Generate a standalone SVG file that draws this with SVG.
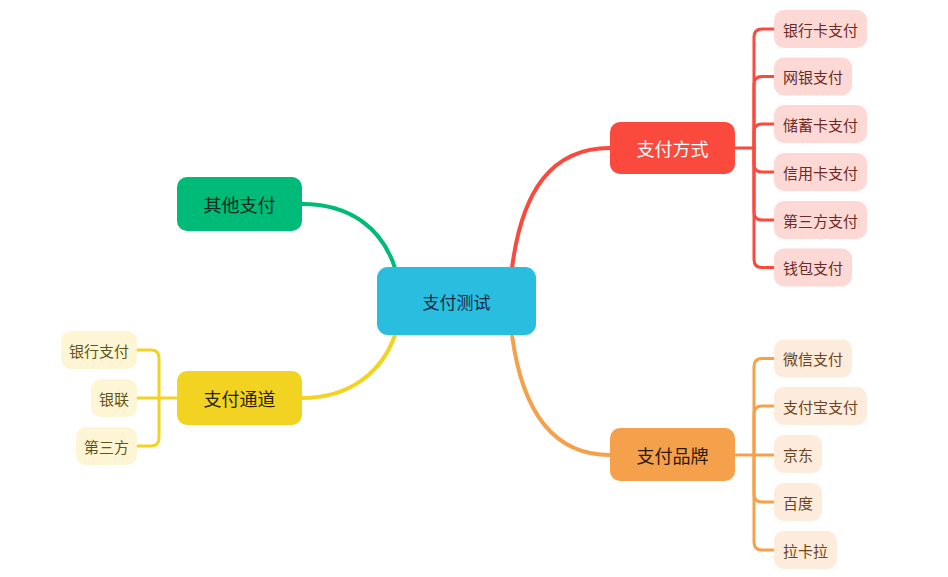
<svg xmlns="http://www.w3.org/2000/svg" width="948" height="577" viewBox="0 0 948 577">
<style>
text{font-family:"Microsoft YaHei","Noto Sans CJK SC",sans-serif;text-anchor:middle;dominant-baseline:central}
.main{font-size:18px}
.leaf{font-size:15px}
.c{fill:none;stroke-linecap:round}
.b{stroke-width:4}
.s{stroke-width:3}
</style>
<rect width="948" height="577" fill="#ffffff"/>
<g id="connectors">
<path class="c b" stroke="#F94A3D" d="M512,268 C522,190 552,148 610,148"/>
<path class="c b" stroke="#F5A04A" d="M512,335 C522,410 552,455 610,455"/>
<path class="c b" stroke="#00BA78" d="M395,268 C382,228 350,204 302,204"/>
<path class="c b" stroke="#F2D322" d="M395,335 C382,372 350,398 302,398"/>
<g stroke="#F94A3D" class="c s">
<path d="M735,148 H754"/>
<path d="M754,148 V37 Q754,29 762,29 H776"/>
<path d="M754,148 V84.5 Q754,76.5 762,76.5 H776"/>
<path d="M754,148 V132 Q754,124 762,124 H776"/>
<path d="M754,148 V164 Q754,172 762,172 H776"/>
<path d="M754,148 V212 Q754,220 762,220 H776"/>
<path d="M754,148 V259.5 Q754,267.5 762,267.5 H776"/>
</g>
<g stroke="#F5A04A" class="c s">
<path d="M735,455 H776"/>
<path d="M754,455 V366.5 Q754,358.5 762,358.5 H776"/>
<path d="M754,455 V414 Q754,406 762,406 H776"/>
<path d="M754,455 V494 Q754,502 762,502 H776"/>
<path d="M754,455 V542 Q754,550 762,550 H776"/>
</g>
<g stroke="#F2D322" class="c s">
<path d="M177,398 H137"/>
<path d="M159,398 V358 Q159,350 151,350 H137"/>
<path d="M159,398 V438 Q159,446 151,446 H137"/>
</g>
</g>
<g id="root">
<rect x="377" y="267" width="159" height="68" rx="11" fill="#29BDE0"/>
<text class="main" x="456.5" y="301" fill="#1a2c45" style="font-size:17px">支付测试</text>
</g>
<g id="n-fangshi">
<rect x="610" y="122" width="125" height="52" rx="10" fill="#F94A3D"/>
<text class="main" x="672.5" y="148" fill="#ffffff">支付方式</text>
</g>
<g id="n-pinpai">
<rect x="610" y="428" width="125" height="53" rx="10" fill="#F5A04A"/>
<text class="main" x="672.5" y="454.5" fill="#2a1a0a">支付品牌</text>
</g>
<g id="n-qita">
<rect x="177" y="177" width="125" height="54" rx="10" fill="#00BA78"/>
<text class="main" x="239.5" y="204" fill="#0a2a1a">其他支付</text>
</g>
<g id="n-tongdao">
<rect x="177" y="371" width="125" height="54" rx="10" fill="#F2D322"/>
<text class="main" x="239.5" y="398" fill="#2a2208">支付通道</text>
</g>
<g fill="#FDD9D6">
<g id="l-yinhangka"><rect x="774" y="10" width="93" height="38" rx="10"/><text class="leaf" x="820.5" y="29" fill="#6e2a25">银行卡支付</text></g>
<g id="l-wangyin"><rect x="774" y="57.5" width="78" height="38" rx="10"/><text class="leaf" x="813" y="76.5" fill="#6e2a25">网银支付</text></g>
<g id="l-chuxu"><rect x="774" y="105" width="93" height="38" rx="10"/><text class="leaf" x="820.5" y="124" fill="#6e2a25">储蓄卡支付</text></g>
<g id="l-xinyong"><rect x="774" y="153" width="93" height="38" rx="10"/><text class="leaf" x="820.5" y="172" fill="#6e2a25">信用卡支付</text></g>
<g id="l-disanfang"><rect x="774" y="201" width="93" height="38" rx="10"/><text class="leaf" x="820.5" y="220" fill="#6e2a25">第三方支付</text></g>
<g id="l-qianbao"><rect x="774" y="248.5" width="78" height="38" rx="10"/><text class="leaf" x="813" y="267.5" fill="#6e2a25">钱包支付</text></g>
</g>
<g fill="#FDEBDC">
<g id="l-weixin"><rect x="774" y="339.5" width="78" height="38" rx="10"/><text class="leaf" x="813" y="358.5" fill="#6e4520">微信支付</text></g>
<g id="l-zhifubao"><rect x="774" y="387" width="93" height="38" rx="10"/><text class="leaf" x="820.5" y="406" fill="#6e4520">支付宝支付</text></g>
<g id="l-jingdong"><rect x="774" y="435" width="48" height="38" rx="10"/><text class="leaf" x="798" y="454" fill="#6e4520">京东</text></g>
<g id="l-baidu"><rect x="774" y="483" width="48" height="38" rx="10"/><text class="leaf" x="798" y="502" fill="#6e4520">百度</text></g>
<g id="l-lakala"><rect x="774" y="531" width="63" height="38" rx="10"/><text class="leaf" x="805.5" y="550" fill="#6e4520">拉卡拉</text></g>
</g>
<g fill="#FDF5D3">
<g id="l-yinhang"><rect x="61" y="331" width="76" height="38" rx="10"/><text class="leaf" x="99" y="350" fill="#5e5620">银行支付</text></g>
<g id="l-yinlian"><rect x="91" y="379" width="46" height="38" rx="10"/><text class="leaf" x="114" y="398" fill="#5e5620">银联</text></g>
<g id="l-disan"><rect x="76" y="427" width="61" height="38" rx="10"/><text class="leaf" x="106.5" y="446" fill="#5e5620">第三方</text></g>
</g>
</svg>
